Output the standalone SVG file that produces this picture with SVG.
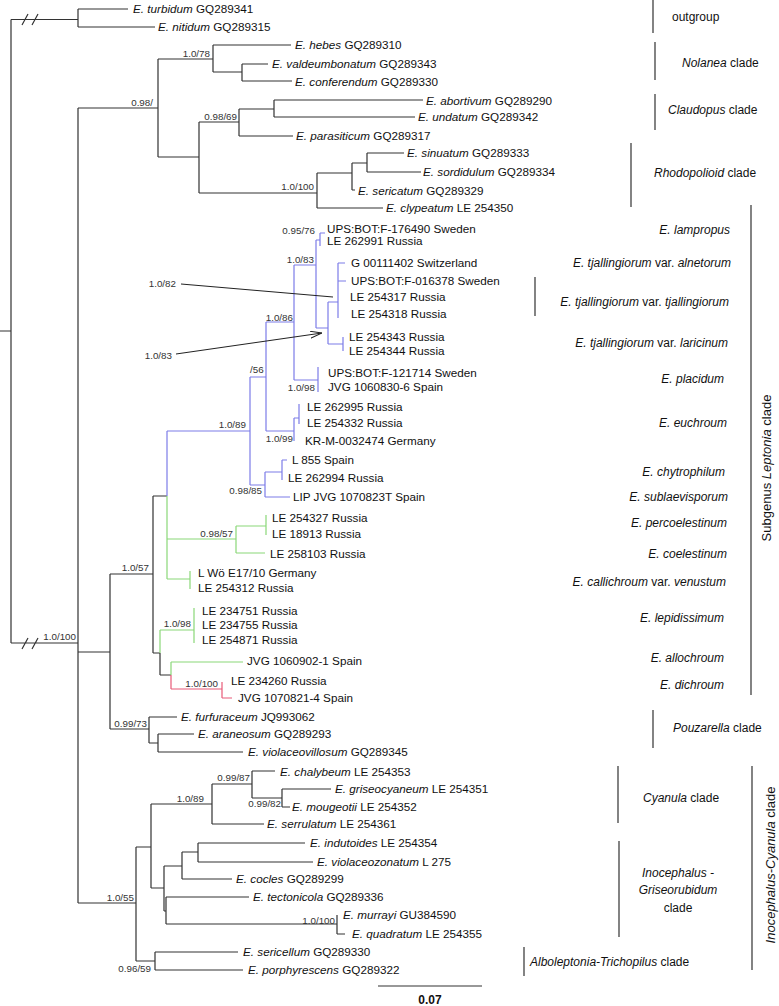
<svg xmlns="http://www.w3.org/2000/svg" width="779" height="1006" viewBox="0 0 779 1006">
<defs>
<style>
.k{stroke:#333;stroke-width:1.2;fill:none}
.bl{stroke:#7c7ce8;stroke-width:1.2;fill:none}
.gr{stroke:#8ad878;stroke-width:1.2;fill:none}
.rd{stroke:#e85a78;stroke-width:1.2;fill:none}
text{font-family:"Liberation Sans",Arial,sans-serif;fill:#111}
.t{font-size:11.7px}
.s{font-size:9.8px;fill:#333}
.c{font-size:12px}
.i{font-style:italic}
</style>
<marker id="arr" viewBox="0 0 12 8" refX="12" refY="4" markerWidth="12" markerHeight="8" markerUnits="userSpaceOnUse" orient="auto">
<path d="M0,0.5 L12,4 L0,7.5" fill="none" stroke="#222" stroke-width="1"/>
</marker>
</defs>
<rect width="779" height="1006" fill="#fff"/>
<g id="connectors">
<path class="k" d="M0 331H11M11 19.5V643M11 19.5H78M78 9V27M78 9H128M78 27H155M11 643H78M78 108V903M22 25L28 14M32 25L38 14M22 649L28 638M32 649L38 638"/>
<path class="k" d="M78 108H158M158 59V157M158 59H213M213 45V72M213 45H291M213 72H242M242 64V81M242 64H268M242 81H292M158 157H199M199 122V193M199 122H239M239 109V136M239 109H274M274 100V117M274 100H423M274 117H415M239 136H293M199 193H317M317 173V208M317 173H352M352 163V190M352 190H355M352 163H367M367 153V172M367 153H404M367 172H421M317 208H383"/>
<path class="k" d="M78 652H110M110 574V729M110 574H153M153 496V653M153 496H167M153 653H160M160 653V675M160 675H171M110 729H149M149 717V743M149 717H177M149 743H158M158 734V752M158 734H194M158 752H243"/>
<path class="bl" d="M167 431V496M167 431H250M250 377V485M250 377H266M266 322V431M266 322H294M294 265V380M294 265H316M316 240V328M316 240H320M320 233V246M320 233H325M316 328H328M328 302V344M328 302H338M338 263V318M338 263H345M338 281H346M328 344H343M343 337V351M294 380H318M318 367V392M266 431H294M294 418V441M294 418H299M299 404V424M250 485H265M265 472V497M265 472H282M282 460V480M282 460H287M265 497H290"/>
<path class="gr" d="M167 496V579M167 539H236M236 526V553M236 526H266M266 515V535M236 553H265M167 579H190M190 571V589M160 630V653M160 630H194M194 608V643M171 662V675M171 662H243"/>
<path class="rd" d="M171 675V689M171 689H222M222 682V698M222 698H232"/>
<path class="k" d="M78 903H136M136 847V961M136 847H151M151 804V888M151 804H212M212 784V824M212 784H252M252 771V798M252 771H275M252 798H282M282 789V807M282 789H331M282 807H290M212 824H264M151 888H164M164 866V911M164 866H182M182 852V879M182 852H198M198 843V862M198 843H305M198 862H313M182 879H232M164 911H166M166 897V924M166 897H249M166 924H337M337 915V934M337 934H345M136 961H155M155 952V970M155 952H238M155 970H243"/>
<path d="M181 284L333 297M176 354L322 333" stroke="#222" stroke-width="1" fill="none" marker-end="url(#arr)"/>
</g>
<g id="support" class="s">
<text class="s" x="153" y="105.5" text-anchor="end">0.98/</text>
<text class="s" x="210" y="56.5" text-anchor="end">1.0/78</text>
<text class="s" x="237" y="119.5" text-anchor="end">0.98/69</text>
<text class="s" x="314" y="189.5" text-anchor="end">1.0/100</text>
<text class="s" x="315" y="233.5" text-anchor="end">0.95/76</text>
<text class="s" x="314" y="262.5" text-anchor="end">1.0/83</text>
<text class="s" x="293" y="320.5" text-anchor="end">1.0/86</text>
<text class="s" x="250" y="372.5">/56</text>
<text class="s" x="246" y="427.5" text-anchor="end">1.0/89</text>
<text class="s" x="315" y="390.5" text-anchor="end">1.0/98</text>
<text class="s" x="293" y="441.5" text-anchor="end">1.0/99</text>
<text class="s" x="262" y="493.5" text-anchor="end">0.98/85</text>
<text class="s" x="233" y="536.5" text-anchor="end">0.98/57</text>
<text class="s" x="149" y="570.5" text-anchor="end">1.0/57</text>
<text class="s" x="191" y="626.5" text-anchor="end">1.0/98</text>
<text class="s" x="218" y="686.5" text-anchor="end">1.0/100</text>
<text class="s" x="76" y="639.5" text-anchor="end">1.0/100</text>
<text class="s" x="147" y="726.5" text-anchor="end">0.99/73</text>
<text class="s" x="250" y="780.5" text-anchor="end">0.99/87</text>
<text class="s" x="204" y="801.5" text-anchor="end">1.0/89</text>
<text class="s" x="281" y="806.5" text-anchor="end">0.99/82</text>
<text class="s" x="134" y="900.5" text-anchor="end">1.0/55</text>
<text class="s" x="335" y="923.5" text-anchor="end">1.0/100</text>
<text class="s" x="151" y="971.5" text-anchor="end">0.96/59</text>
<text class="s" x="176" y="286.5" text-anchor="end">1.0/82</text>
<text class="s" x="172" y="358.5" text-anchor="end">1.0/83</text>
</g>
<g class="t">
<g id="n-turbidum"><text class="t" x="133" y="13"><tspan class="i">E. turbidum</tspan> GQ289341</text></g>
<g id="n-nitidum"><text class="t" x="158" y="31"><tspan class="i">E. nitidum</tspan> GQ289315</text></g>
<g id="n-hebes"><text class="t" x="295" y="49"><tspan class="i">E. hebes</tspan> GQ289310</text></g>
<g id="n-valdeumbonatum"><text class="t" x="272" y="68"><tspan class="i">E. valdeumbonatum</tspan> GQ289343</text></g>
<g id="n-conferendum"><text class="t" x="295" y="86"><tspan class="i">E. conferendum</tspan> GQ289330</text></g>
<g id="n-abortivum"><text class="t" x="426" y="105"><tspan class="i">E. abortivum</tspan> GQ289290</text></g>
<g id="n-undatum"><text class="t" x="418" y="121"><tspan class="i">E. undatum</tspan> GQ289342</text></g>
<g id="n-parasiticum"><text class="t" x="296" y="140"><tspan class="i">E. parasiticum</tspan> GQ289317</text></g>
<g id="n-sinuatum"><text class="t" x="407" y="157"><tspan class="i">E. sinuatum</tspan> GQ289333</text></g>
<g id="n-sordidulum"><text class="t" x="423" y="176"><tspan class="i">E. sordidulum</tspan> GQ289334</text></g>
<g id="n-sericatum"><text class="t" x="358" y="195"><tspan class="i">E. sericatum</tspan> GQ289329</text></g>
<g id="n-clypeatum"><text class="t" x="386" y="212"><tspan class="i">E. clypeatum</tspan> LE 254350</text></g>
<g id="n-ups176490"><text class="t" x="327" y="233">UPS:BOT:F-176490 Sweden</text></g>
<g id="n-le262991"><text class="t" x="327" y="245">LE 262991 Russia</text></g>
<g id="n-g00111402"><text class="t" x="351" y="267">G 00111402 Switzerland</text></g>
<g id="n-ups016378"><text class="t" x="351" y="285">UPS:BOT:F-016378 Sweden</text></g>
<g id="n-le254317"><text class="t" x="350" y="301">LE 254317 Russia</text></g>
<g id="n-le254318"><text class="t" x="351" y="318">LE 254318 Russia</text></g>
<g id="n-le254343"><text class="t" x="349" y="341">LE 254343 Russia</text></g>
<g id="n-le254344"><text class="t" x="349" y="355">LE 254344 Russia</text></g>
<g id="n-ups121714"><text class="t" x="328" y="377">UPS:BOT:F-121714 Sweden</text></g>
<g id="n-jvg10608306"><text class="t" x="328" y="391">JVG 1060830-6 Spain</text></g>
<g id="n-le262995"><text class="t" x="307" y="411">LE 262995 Russia</text></g>
<g id="n-le254332"><text class="t" x="307" y="427">LE 254332 Russia</text></g>
<g id="n-krm"><text class="t" x="305" y="445">KR-M-0032474 Germany</text></g>
<g id="n-l855"><text class="t" x="292" y="464">L 855 Spain</text></g>
<g id="n-le262994"><text class="t" x="288" y="482">LE 262994 Russia</text></g>
<g id="n-lip"><text class="t" x="293" y="501">LIP JVG 1070823T Spain</text></g>
<g id="n-le254327"><text class="t" x="272" y="522">LE 254327 Russia</text></g>
<g id="n-le18913"><text class="t" x="272" y="538">LE 18913 Russia</text></g>
<g id="n-le258103"><text class="t" x="270" y="558">LE 258103 Russia</text></g>
<g id="n-lwo"><text class="t" x="198" y="577">L Wö E17/10 Germany</text></g>
<g id="n-le254312"><text class="t" x="198" y="592">LE 254312 Russia</text></g>
<g id="n-le234751"><text class="t" x="202" y="615">LE 234751 Russia</text></g>
<g id="n-le234755"><text class="t" x="202" y="629">LE 234755 Russia</text></g>
<g id="n-le254871"><text class="t" x="202" y="644">LE 254871 Russia</text></g>
<g id="n-jvg10609021"><text class="t" x="247" y="665">JVG 1060902-1 Spain</text></g>
<g id="n-le234260"><text class="t" x="231" y="685">LE 234260 Russia</text></g>
<g id="n-jvg10708214"><text class="t" x="238" y="702">JVG 1070821-4 Spain</text></g>
<g id="n-furfuraceum"><text class="t" x="181" y="721"><tspan class="i">E. furfuraceum</tspan> JQ993062</text></g>
<g id="n-araneosum"><text class="t" x="198" y="738"><tspan class="i">E. araneosum</tspan> GQ289293</text></g>
<g id="n-violaceovillosum"><text class="t" x="248" y="756"><tspan class="i">E. violaceovillosum</tspan> GQ289345</text></g>
<g id="n-chalybeum"><text class="t" x="280" y="776"><tspan class="i">E. chalybeum</tspan> LE 254353</text></g>
<g id="n-griseocyaneum"><text class="t" x="335" y="793"><tspan class="i">E. griseocyaneum</tspan> LE 254351</text></g>
<g id="n-mougeotii"><text class="t" x="292" y="811"><tspan class="i">E. mougeotii</tspan> LE 254352</text></g>
<g id="n-serrulatum"><text class="t" x="267" y="828"><tspan class="i">E. serrulatum</tspan> LE 254361</text></g>
<g id="n-indutoides"><text class="t" x="310" y="847"><tspan class="i">E. indutoides</tspan> LE 254354</text></g>
<g id="n-violaceozonatum"><text class="t" x="317" y="866"><tspan class="i">E. violaceozonatum</tspan> L 275</text></g>
<g id="n-cocles"><text class="t" x="236" y="883"><tspan class="i">E. cocles</tspan> GQ289299</text></g>
<g id="n-tectonicola"><text class="t" x="253" y="901"><tspan class="i">E. tectonicola</tspan> GQ289336</text></g>
<g id="n-murrayi"><text class="t" x="343" y="919"><tspan class="i">E. murrayi</tspan> GU384590</text></g>
<g id="n-quadratum"><text class="t" x="352" y="938"><tspan class="i">E. quadratum</tspan> LE 254355</text></g>
<g id="n-sericellum"><text class="t" x="243" y="956"><tspan class="i">E. sericellum</tspan> GQ289330</text></g>
<g id="n-porphyrescens"><text class="t" x="248" y="974"><tspan class="i">E. porphyrescens</tspan> GQ289322</text></g>
</g>
<g id="clades">
<path class="k" d="M653 0V33M655 42V80M655 94V130M631 143V207M751 205V695M535 277V316M653 710V748M618 766V823M619 841V937M752 766V970M524 947V976"/>
<text class="c" x="672" y="21">outgroup</text>
<text class="c" x="682" y="67"><tspan class="i">Nolanea</tspan> clade</text>
<text class="c" x="668" y="114"><tspan class="i">Claudopus</tspan> clade</text>
<text class="c" x="654" y="177"><tspan class="i">Rhodopolioid</tspan> clade</text>
<text class="c i" x="730" y="234" text-anchor="end">E. lampropus</text>
<text class="c" x="731" y="267" text-anchor="end"><tspan class="i">E. tjallingiorum</tspan> var. <tspan class="i">alnetorum</tspan></text>
<text class="c" x="729" y="306" text-anchor="end"><tspan class="i">E. tjallingiorum</tspan> var. <tspan class="i">tjallingiorum</tspan></text>
<text class="c" x="728" y="347" text-anchor="end"><tspan class="i">E. tjallingiorum</tspan> var. <tspan class="i">laricinum</tspan></text>
<text class="c i" x="724" y="383" text-anchor="end">E. placidum</text>
<text class="c i" x="727" y="427" text-anchor="end">E. euchroum</text>
<text class="c i" x="725" y="476" text-anchor="end">E. chytrophilum</text>
<text class="c i" x="728" y="501" text-anchor="end">E. sublaevisporum</text>
<text class="c i" x="727" y="527" text-anchor="end">E. percoelestinum</text>
<text class="c i" x="727" y="558" text-anchor="end">E. coelestinum</text>
<text class="c" x="726" y="586" text-anchor="end"><tspan class="i">E. callichroum</tspan> var. <tspan class="i">venustum</tspan></text>
<text class="c i" x="724" y="622" text-anchor="end">E. lepidissimum</text>
<text class="c i" x="724" y="662" text-anchor="end">E. allochroum</text>
<text class="c i" x="724" y="689" text-anchor="end">E. dichroum</text>
<text class="c" x="673" y="732"><tspan class="i">Pouzarella</tspan> clade</text>
<text class="c" x="643" y="802"><tspan class="i">Cyanula</tspan> clade</text>
<text class="c" text-anchor="middle"><tspan class="i" x="678" y="877">Inocephalus -</tspan><tspan class="i" x="678" y="894">Griseorubidum</tspan><tspan x="678" y="912">clade</tspan></text>
<text class="c" x="530" y="966"><tspan class="i">Alboleptonia-Trichopilus</tspan> clade</text>
<text class="c" text-anchor="middle" transform="translate(771 468) rotate(-90)" style="font-size:13px">Subgenus <tspan class="i">Leptonia</tspan> clade</text>
<text class="c" text-anchor="middle" transform="translate(775 865) rotate(-90)" style="font-size:13px"><tspan class="i">Inocephalus-Cyanula</tspan> clade</text>
</g>
<g id="scale">
<path class="k" d="M378 986H482"/>
<text x="430" y="1004" text-anchor="middle" font-weight="bold" font-size="12">0.07</text>
</g>
</svg>
